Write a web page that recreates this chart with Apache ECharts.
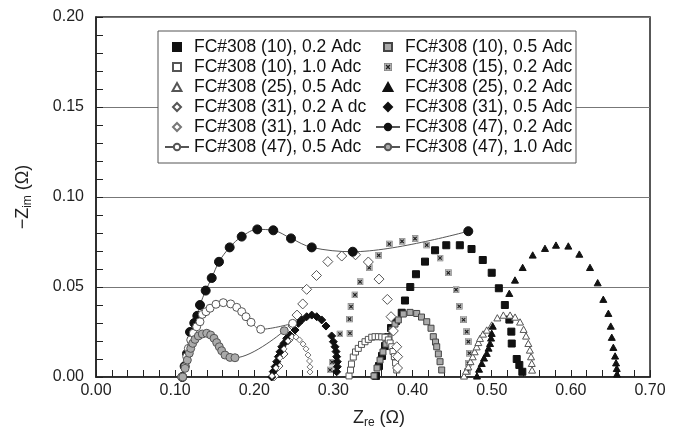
<!DOCTYPE html>
<html><head><meta charset="utf-8">
<script src="https://cdn.jsdelivr.net/npm/echarts@6/dist/echarts.min.js"></script>
<style>html,body{margin:0;padding:0;background:#fff}#c{width:680px;height:436px}</style>
</head><body><div id="c"></div>
<script>
// ---- data ----
const names = [
  "FC#308 (10), 0.2 Adc","FC#308 (10), 0.5 Adc",
  "FC#308 (10), 1.0 Adc","FC#308 (15), 0.2 Adc",
  "FC#308 (25), 0.5 Adc","FC#308 (25), 0.2 Adc",
  "FC#308 (31), 0.2 A dc","FC#308 (31), 0.5 Adc",
  "FC#308 (31), 1.0 Adc","FC#308 (47), 0.2 Adc",
  "FC#308 (47), 0.5 Adc","FC#308 (47), 1.0 Adc"
];
const s10_02 = [[0.3538,0.0006],[0.3576,0.0061],[0.3614,0.0117],[0.3652,0.0172],[0.369,0.0222],[0.3728,0.0272],[0.3791,0.0311],[0.3863,0.0357],[0.3904,0.0425],[0.3971,0.050],[0.4043,0.0571],[0.4157,0.0641],[0.4284,0.0704],[0.4426,0.0732],[0.4597,0.0732],[0.4745,0.0711],[0.4887,0.065],[0.500,0.0579],[0.509,0.0493],[0.5166,0.040],[0.5223,0.0319],[0.5248,0.0252],[0.5253,0.0186],[0.5316,0.010],[0.5349,0.0067],[0.5387,0.0029]];
const s10_05 = [[0.3513,0.0006],[0.3551,0.005],[0.3589,0.0094],[0.3626,0.0139],[0.3664,0.0183],[0.3702,0.0222],[0.374,0.0261],[0.3778,0.0294],[0.382,0.0317],[0.3883,0.035],[0.3968,0.0359],[0.4052,0.0353],[0.4113,0.0333],[0.4179,0.0307],[0.4233,0.0271],[0.4262,0.0224],[0.429,0.0194],[0.4305,0.0168],[0.4326,0.0128],[0.4347,0.0085],[0.4368,0.0039]];
const s10_10 = [[0.3197,0.0006],[0.3216,0.0039],[0.3228,0.0072],[0.3251,0.0111],[0.3279,0.0139],[0.3314,0.0159],[0.3355,0.0181],[0.3399,0.0196],[0.3441,0.0209],[0.3484,0.0221],[0.3526,0.0224],[0.3568,0.0224],[0.361,0.0223],[0.3652,0.0221],[0.3694,0.0206],[0.3716,0.0189],[0.3737,0.0168],[0.3753,0.0142],[0.377,0.0113],[0.3785,0.0078],[0.380,0.0039]];
const s15_02 = [[0.2957,0.0039],[0.2982,0.0083],[0.3083,0.0239],[0.3209,0.0243],[0.3203,0.0322],[0.3222,0.0391],[0.3272,0.0456],[0.3336,0.0529],[0.3452,0.0607],[0.3572,0.0676],[0.3706,0.0739],[0.3867,0.0754],[0.4031,0.0769],[0.4179,0.0733],[0.4347,0.0661],[0.4452,0.0579],[0.4549,0.0485],[0.459,0.0393],[0.4644,0.0318],[0.4684,0.0252],[0.4705,0.0196],[0.4718,0.0132],[0.4705,0.0076],[0.4692,0.0029]];
const s25_05 = [[0.465,0.0006],[0.4675,0.0033],[0.4704,0.0057],[0.4732,0.0086],[0.476,0.0113],[0.4785,0.0141],[0.481,0.0168],[0.4831,0.0192],[0.4852,0.0215],[0.489,0.0239],[0.4937,0.0261],[0.500,0.0289],[0.5071,0.0329],[0.5147,0.0344],[0.5232,0.0344],[0.5295,0.0333],[0.5358,0.0306],[0.5403,0.0265],[0.5434,0.0228],[0.5463,0.0187],[0.5482,0.015],[0.5497,0.0113],[0.5506,0.0076],[0.551,0.0039]];
const s25_02 = [[0.4814,0.0006],[0.484,0.0044],[0.4874,0.0076],[0.4903,0.0106],[0.4937,0.0132],[0.496,0.0161],[0.4979,0.0187],[0.4992,0.0217],[0.500,0.0243],[0.5013,0.0283],[0.5222,0.0465],[0.5294,0.0539],[0.5391,0.0609],[0.5518,0.0678],[0.5673,0.0715],[0.5812,0.0733],[0.5968,0.0728],[0.6107,0.0683],[0.6242,0.0609],[0.6339,0.0524],[0.641,0.0432],[0.6474,0.0354],[0.6504,0.0283],[0.6517,0.0221],[0.6537,0.0165],[0.6559,0.0117],[0.6571,0.0079],[0.658,0.0048],[0.6583,0.0017]];
const s31_02 = [[0.2249,0.0006],[0.230,0.0061],[0.2363,0.0128],[0.2426,0.0206],[0.2489,0.0283],[0.254,0.0344],[0.2612,0.0406],[0.2662,0.0487],[0.2786,0.0564],[0.2929,0.0641],[0.3105,0.0672],[0.3279,0.0679],[0.3441,0.0639],[0.3576,0.0544],[0.3681,0.0431],[0.3728,0.0335],[0.3757,0.0256],[0.380,0.0168],[0.3812,0.0113],[0.381,0.005]];
const s31_05 = [[0.222,0.000],[0.224,0.003],[0.2262,0.0057],[0.2283,0.0085],[0.2304,0.0113],[0.2325,0.014],[0.2347,0.0168],[0.2376,0.0187],[0.241,0.0215],[0.2451,0.0233],[0.2515,0.0261],[0.2557,0.0298],[0.2599,0.0317],[0.2662,0.0335],[0.2726,0.0344],[0.2789,0.0335],[0.2852,0.0317],[0.2906,0.0283],[0.2978,0.0228],[0.2999,0.0196],[0.302,0.0168],[0.3033,0.0141],[0.3041,0.0113],[0.3049,0.0085],[0.3049,0.0057],[0.3041,0.0029]];
const s31_10 = [[0.2224,0.0006],[0.2274,0.005],[0.2325,0.0106],[0.2376,0.0156],[0.2426,0.020],[0.2477,0.0222],[0.2527,0.0222],[0.2571,0.0206],[0.2616,0.0183],[0.2654,0.0156],[0.2679,0.0122],[0.2698,0.0089],[0.2704,0.0056],[0.2704,0.0028]];
const s47_02 = [[0.109,0.000],[0.112,0.006],[0.115,0.013],[0.1188,0.025],[0.1242,0.030],[0.128,0.034],[0.1314,0.040],[0.1386,0.048],[0.1462,0.055],[0.1554,0.064],[0.1689,0.072],[0.1841,0.078],[0.2038,0.082],[0.224,0.0815],[0.2464,0.077],[0.2726,0.072],[0.3244,0.0696],[0.4704,0.081]];
const s47_05 = [[0.1083,0.000],[0.1125,0.0057],[0.1146,0.0113],[0.1167,0.0159],[0.1197,0.0206],[0.123,0.0243],[0.1272,0.0279],[0.1314,0.0307],[0.1343,0.0348],[0.139,0.0363],[0.1441,0.0382],[0.1516,0.0404],[0.1608,0.0413],[0.1702,0.0406],[0.1778,0.0387],[0.1841,0.0363],[0.1895,0.0335],[0.1959,0.0304],[0.2081,0.0265],[0.2485,0.0298]];
const s47_10 = [[0.1096,0.000],[0.1125,0.0048],[0.1154,0.0094],[0.1179,0.0132],[0.1197,0.0159],[0.1222,0.0187],[0.1251,0.0209],[0.1293,0.0228],[0.1343,0.0239],[0.1399,0.0243],[0.1449,0.0233],[0.1491,0.0215],[0.1525,0.0191],[0.1558,0.0168],[0.1588,0.0146],[0.163,0.0122],[0.1693,0.0109],[0.1756,0.0107],[0.2379,0.0257]];
const seriesData = [s10_02,s10_05,s10_10,s15_02,s25_05,s25_02,s31_02,s31_05,s31_10,s47_02,s47_05,s47_10];

// ---- styles ----
const FONT = "'Liberation Sans',Arial,sans-serif";
const RECT = 'path://M0,0H10V10H0Z';
const TRI = 'path://M5,0L10,9L0,9Z';
const DIA = 'path://M5,0L10,5L5,10L0,5Z';
const xImg = 'image://data:image/svg+xml;utf8,' + encodeURIComponent('<svg xmlns="http://www.w3.org/2000/svg" width="10" height="10"><rect x="0.5" y="0.5" width="9" height="9" fill="#b5b5b5" stroke="#808080"/><path d="M2.6 2.6L7.4 7.4M7.4 2.6L2.6 7.4" stroke="#222" stroke-width="1.7"/></svg>');
const styles = [
  {symbol:RECT, size:7, fill:'#111', border:'#111'},
  {symbol:RECT, size:6, fill:'#aaa', border:'#444'},
  {symbol:RECT, size:6, fill:'#fff', border:'#555'},
  {symbol:xImg, size:7, fill:'#999', border:'#999'},
  {symbol:TRI, size:7, fill:'#fff', border:'#555'},
  {symbol:TRI, size:7, fill:'#111', border:'#111'},
  {symbol:DIA, size:10, fill:'#fff', border:'#555'},
  {symbol:DIA, size:8, fill:'#111', border:'#111'},
  {symbol:DIA, size:6, fill:'#fff', border:'#777'},
  {symbol:'circle', size:9, fill:'#111', border:'#111', line:true},
  {symbol:'circle', size:8, fill:'#fff', border:'#555', line:true},
  {symbol:'circle', size:8, fill:'#aaa', border:'#555', line:true}
];

const series = seriesData.map((d,i)=>{
  const st = styles[i];
  const base = {
    name: names[i], type: st.line ? 'line' : 'scatter', data: d,
    symbol: st.symbol, symbolSize: st.size, symbolKeepAspect: true,
    itemStyle: {color: st.fill, borderColor: st.border, borderWidth: 1, opacity: 1},
    emphasis: {disabled: true}, animation: false, z: 2 + (st.line ? 1 : 0)
  };
  if (st.line) {
    base.showSymbol = true; base.smooth = 0.35;
    base.lineStyle = {color: '#555', width: 1};
  }
  return base;
});

const legendCommon = {
  orient: 'vertical', top: 37, itemWidth: 24, itemHeight: 8, itemGap: 0, padding: 0,
  symbolKeepAspect: true,
  textStyle: {fontFamily: FONT, fontSize: 17.5, color: '#111', lineHeight: 20},
  selectedMode: false
};

const chart = echarts.init(document.getElementById('c'), null, {renderer: 'canvas'});
chart.setOption({
  animation: false,
  textStyle: {fontFamily: FONT},
  grid: {left: 96, right: 30, top: 17, bottom: 59, show: true, borderColor: '#222', borderWidth: 1.5, backgroundColor: 'transparent'},
  xAxis: {
    type: 'value', min: 0, max: 0.7, interval: 0.1,
    axisLine: {show: true, lineStyle: {color: '#222', width: 1.5}},
    axisTick: {show: true, inside: true, length: 7, lineStyle: {color: '#222'}},
    minorTick: {show: true, splitNumber: 5, length: 7, lineStyle: {color: '#222'}},
    splitLine: {show: false},
    axisLabel: {fontSize: 16, color: '#222', margin: 6, formatter: v => v.toFixed(2)},
    name: '{a|Z}{b|re}{a| (Ω)}', nameLocation: 'middle', nameGap: 30,
    nameTextStyle: {padding: [0,0,0,12], rich: {a: {fontSize: 18, color: '#222', fontFamily: FONT}, b: {fontSize: 12, color: '#222', fontFamily: FONT, padding: [10,0,0,0]}}}
  },
  yAxis: {
    type: 'value', min: 0, max: 0.2, interval: 0.05,
    axisLine: {show: true, lineStyle: {color: '#222', width: 1.5}},
    axisTick: {show: true, inside: true, length: 7, lineStyle: {color: '#222'}},
    minorTick: {show: true, splitNumber: 5, length: 7, lineStyle: {color: '#222'}},
    splitLine: {show: true, lineStyle: {color: '#777', width: 1}},
    axisLabel: {fontSize: 16, color: '#222', margin: 12, formatter: v => v.toFixed(2)},
    name: '{a|−Z}{b|im}{a| (Ω)}', nameLocation: 'middle', nameGap: 62, nameRotate: 90,
    nameTextStyle: {rich: {a: {fontSize: 18, color: '#222', fontFamily: FONT}, b: {fontSize: 12, color: '#222', fontFamily: FONT, padding: [10,0,0,0]}}}
  },
  graphic: [{type: 'rect', z: 3, shape: {x: 158, y: 31, width: 418, height: 132}, style: {fill: '#fff', stroke: '#555', lineWidth: 1}}],
  legend: [
    Object.assign({}, legendCommon, {left: 164, data: [names[0],names[2],names[4],names[6],names[8],names[10]]}),
    Object.assign({}, legendCommon, {left: 375, data: [names[1],names[3],names[5],names[7],names[9],names[11]]})
  ],
  series: series
});
</script></body></html>
